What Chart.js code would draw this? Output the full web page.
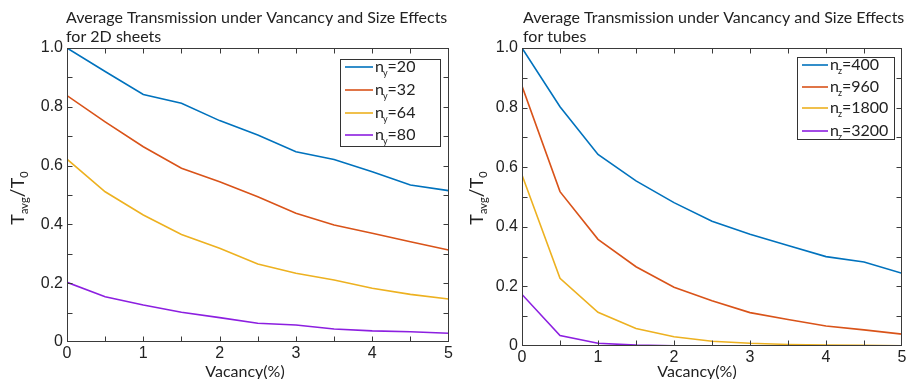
<!DOCTYPE html>
<html><head><meta charset="utf-8">
<script src="https://cdn.jsdelivr.net/npm/chart.js@4.4.1/dist/chart.umd.min.js"></script>
<style>
html,body{margin:0;padding:0;background:#fff;}
#wrap{position:relative;width:909px;height:379px;overflow:hidden;background:#fff;}
.box{position:absolute;top:0;height:379px;}
canvas{display:block;}
</style></head><body>
<div id="wrap">
<div class="box" style="left:0;width:455px"><canvas id="c1" width="455" height="379"></canvas></div>
<div class="box" style="left:455px;width:454px"><canvas id="c2" width="454" height="379"></canvas></div>
</div>
<script>
// ---- data ----
const vacancy = [0, 0.5, 1, 1.5, 2, 2.5, 3, 3.5, 4, 4.5, 5];
const xTickValues = [0, 1, 2, 3, 4, 5];
const yTickText = ['0', '0.2', '0.4', '0.6', '0.8', '1.0'];

const sheetSizes = ['20', '32', '64', '80'];
const sheetNy20 = [1.000, 0.920, 0.842, 0.812, 0.753, 0.704, 0.647, 0.621, 0.579, 0.534, 0.515];
const sheetNy32 = [0.838, 0.749, 0.664, 0.591, 0.545, 0.494, 0.438, 0.398, 0.370, 0.341, 0.313];
const sheetNy64 = [0.622, 0.511, 0.432, 0.366, 0.319, 0.265, 0.234, 0.211, 0.183, 0.162, 0.146];
const sheetNy80 = [0.203, 0.154, 0.126, 0.101, 0.083, 0.064, 0.058, 0.044, 0.038, 0.035, 0.030];

const tubeSizes = ['400', '960', '1800', '3200'];
const tubeNz400  = [1.000, 0.803, 0.643, 0.554, 0.481, 0.419, 0.375, 0.337, 0.300, 0.282, 0.244];
const tubeNz960  = [0.872, 0.518, 0.358, 0.266, 0.197, 0.152, 0.112, 0.089, 0.067, 0.054, 0.040];
const tubeNz1800 = [0.574, 0.227, 0.113, 0.059, 0.031, 0.016, 0.009, 0.005, 0.003, 0.002, 0.001];
const tubeNz3200 = [0.173, 0.035, 0.009, 0.003, 0.001, 0.000, 0.000, 0.000, 0.000, 0.000, 0.000];

const colors = ['#0072BD', '#D95319', '#EDB120', '#8C1FE0'];
const AXIS = '#3a3a3a';
const TXTFONT = '"Lato", "Open Sans", sans-serif';

function drawParts(ctx, x, y, parts) {
  let cx = x;
  for (const p of parts) {
    ctx.font = p.size + 'px ' + TXTFONT;
    ctx.fillText(p.t, cx, y + (p.dy || 0));
    cx += ctx.measureText(p.t).width + (p.gap || 0);
  }
  return cx;
}
function partsWidth(ctx, parts) {
  let w = 0;
  for (const p of parts) { ctx.font = p.size + 'px ' + TXTFONT; w += ctx.measureText(p.t).width + (p.gap || 0); }
  return w;
}

function makeChart(id, cfg) {
  const series = cfg.series;
  const datasets = series.map((s, i) => ({
    label: 'n' + cfg.sub + '=' + cfg.sizes[i],
    data: vacancy.map((v, k) => ({ x: v, y: s[k] })),
    borderColor: colors[i],
    backgroundColor: colors[i],
    borderWidth: 1.6,
    pointRadius: 0,
    tension: 0,
    fill: false
  }));
  const W = cfg.W, H = 379;
  const decor = {
    id: 'decor',
    beforeDraw(chart) {
      const c = chart.ctx; c.save(); c.fillStyle = '#fff'; c.fillRect(0, 0, chart.width, chart.height); c.restore();
    },
    afterDatasetsDraw(chart) {
      const c = chart.ctx, a = chart.chartArea, xs = chart.scales.x, ys = chart.scales.y;
      c.save();
      c.strokeStyle = AXIS; c.lineWidth = 1;
      const L = Math.round(a.left) + 0.5, R = Math.round(a.right) - 0.5, T = Math.round(a.top) + 0.5, B = Math.round(a.bottom) - 0.5;
      c.beginPath();
      for (let v = 0.5; v < 5; v += 0.5) {
        const px = Math.round(xs.getPixelForValue(v)) + 0.5;
        c.moveTo(px, B); c.lineTo(px, B - 5);
        c.moveTo(px, T); c.lineTo(px, T + 5);
      }
      for (let k = 1; k < 10; k++) {
        const py = Math.round(ys.getPixelForValue(k / 10)) + 0.5;
        c.moveTo(L, py); c.lineTo(L + 5, py);
        c.moveTo(R, py); c.lineTo(R - 5, py);
      }
      c.stroke();
      c.strokeRect(L, T, R - L, B - T);
      c.restore();
    },
    afterDraw(chart) {
      const c = chart.ctx;
      c.save();
      c.fillStyle = '#222';
      c.textAlign = 'left'; c.textBaseline = 'middle';
      // title
      c.font = '16px ' + TXTFONT;
      c.fillText(cfg.title[0], cfg.titleX, 18);
      c.fillText(cfg.title[1], cfg.titleX, 37);
      // x label
      c.textAlign = 'center';
      c.fillText('Vacancy(%)', cfg.xlabX, 372);
      // y label
      c.save();
      c.translate(cfg.ylabX, 198);
      c.rotate(-Math.PI / 2);
      c.textAlign = 'left';
      const yl = [{ t: 'T', size: 18 }, { t: 'avg', size: 11, dy: 6, gap: 0 }, { t: '/', size: 20 }, { t: 'T', size: 18 }, { t: '0', size: 11, dy: 6 }];
      drawParts(c, -partsWidth(c, yl) / 2, 0, yl);
      c.restore();
      // legend
      const lg = cfg.legend;
      c.fillStyle = '#fff';
      c.fillRect(lg.x, lg.y, lg.w, lg.h);
      c.strokeStyle = '#333'; c.lineWidth = 1;
      c.strokeRect(lg.x + 0.5, lg.y + 0.5, lg.w, lg.h);
      c.textAlign = 'left';
      chart.data.datasets.forEach((d, i) => {
        const ry = lg.rows[i];
        c.strokeStyle = d.borderColor; c.lineWidth = 1.6;
        c.beginPath(); c.moveTo(lg.x + lg.l1, ry); c.lineTo(lg.x + lg.l2, ry); c.stroke();
        c.fillStyle = '#222';
        drawParts(c, lg.x + lg.l2 + 2, ry, [
          { t: 'n', size: 16, gap: -1 },
          { t: cfg.sub, size: 9, dy: 6, gap: 0 },
          { t: '=' + cfg.sizes[i], size: 16 }
        ]);
      });
      c.restore();
    }
  };
  return new Chart(document.getElementById(id), {
    type: 'line',
    data: { datasets },
    plugins: [decor],
    options: {
      responsive: false,
      animation: false,
      devicePixelRatio: 1,
      layout: { padding: { left: 0, top: cfg.top, right: W - cfg.right, bottom: 0 } },
      plugins: { legend: { display: false }, tooltip: { enabled: false }, title: { display: false } },
      scales: {
        x: {
          type: 'linear', min: 0, max: 5,
          afterBuildTicks: s => { s.ticks = xTickValues.map(v => ({ value: v })); },
          ticks: { font: { family: '"Liberation Sans", Arial, sans-serif', size: 16 }, color: '#222', padding: 2, maxRotation: 0, autoSkip: false, callback: v => String(v) },
          grid: { display: false, drawTicks: false },
          border: { display: false },
          afterFit: s => { s.height = H - cfg.bottom; }
        },
        y: {
          type: 'linear', min: 0, max: 1,
          afterBuildTicks: s => { s.ticks = yTickText.map((t, k) => ({ value: k * 0.2 })); },
          ticks: { font: { family: '"Liberation Sans", Arial, sans-serif', size: 16 }, color: '#222', padding: 4, autoSkip: false, callback: (v) => yTickText[Math.round(v / 0.2)] },
          grid: { display: false, drawTicks: false },
          border: { display: false },
          afterFit: s => { s.width = cfg.left; }
        }
      }
    }
  });
}

makeChart('c1', {
  W: 455, left: 67, right: 450, top: 48, bottom: 342,
  series: [sheetNy20, sheetNy32, sheetNy64, sheetNy80],
  sizes: sheetSizes, sub: 'y',
  title: ['Average Transmission under Vancancy and Size Effects', 'for 2D sheets'],
  titleX: 66, xlabX: 245, ylabX: 18,
  legend: { x: 340, y: 59, w: 100, h: 87, l1: 5, l2: 33, rows: [67, 90, 113, 135] }
});
makeChart('c2', {
  W: 454, left: 67, right: 447, top: 48, bottom: 346,
  series: [tubeNz400, tubeNz960, tubeNz1800, tubeNz3200],
  sizes: tubeSizes, sub: 'z',
  title: ['Average Transmission under Vancancy and Size Effects', 'for tubes'],
  titleX: 68, xlabX: 242, ylabX: 22,
  legend: { x: 342, y: 57, w: 97, h: 82, l1: 5, l2: 31, rows: [65, 87, 108, 131] }
});
</script>
</body></html>
